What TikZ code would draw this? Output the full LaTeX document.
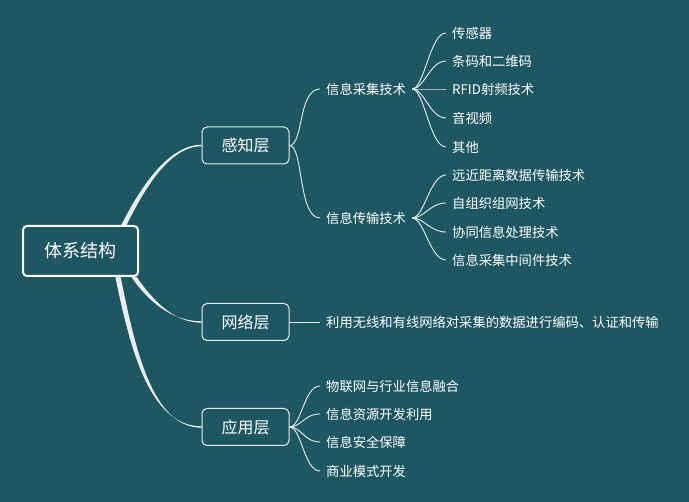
\documentclass[tikz,border=0pt]{standalone}
\usepackage{fontspec}
\setmainfont{Noto Sans CJK SC}
\definecolor{bg}{HTML}{1E5662}
\definecolor{ln}{HTML}{E8EFF1}
\tikzset{
  rootbox/.style={draw=white, line width=2pt, rounded corners=4pt, minimum width=115pt, minimum height=50pt, inner sep=0pt, font=\fontsize{18}{20}\selectfont, text=white},
  layerbox/.style={draw=ln, line width=1pt, rounded corners=5pt, minimum width=87pt, minimum height=37pt, inner sep=0pt, font=\fontsize{16}{18}\selectfont, text=white},
  lbl/.style={anchor=west, inner xsep=6pt, inner ysep=2pt, font=\fontsize{13.3}{15}\selectfont, text=white},
  br/.style={draw=ln, line width=0.9pt},
  fan/.style={br, out=0, in=180}
}
\begin{document}
\begin{tikzpicture}[x=1pt, y=-1pt]
\fill[bg] (0,0) rectangle (689,502);
\useasboundingbox (0,0) rectangle (689,502);

% main nodes
\node[rootbox] (root) at (80.5,251) {体系结构};
\node[layerbox] (gz) at (245.5,145.5) {感知层};
\node[layerbox] (wl) at (245.5,322) {网络层};
\node[layerbox] (yy) at (245.5,427) {应用层};

% second level
\node[lbl] (cj) at (320,89) {信息采集技术};
\node[lbl] (cs) at (320,218) {信息传输技术};
\node[lbl] (wt) at (320,322) {利用无线和有线网络对采集的数据进行编码、认证和传输};
\node[lbl] (y1) at (320,386) {物联网与行业信息融合};
\node[lbl] (y2) at (320,414) {信息资源开发利用};
\node[lbl] (y3) at (320,442) {信息安全保障};
\node[lbl] (y4) at (320,471) {商业模式开发};

% leaves
\node[lbl] (a1) at (446,33) {传感器};
\node[lbl] (a2) at (446,61) {条码和二维码};
\node[lbl] (a3) at (446,89) {RFID射频技术};
\node[lbl] (a4) at (446,118) {音视频};
\node[lbl] (a5) at (446,147) {其他};
\node[lbl] (b1) at (446,175) {远近距离数据传输技术};
\node[lbl] (b2) at (446,203) {自组织组网技术};
\node[lbl] (b3) at (446,232) {协同信息处理技术};
\node[lbl] (b4) at (446,260) {信息采集中间件技术};

% root connectors (tapered)
\coordinate (r1) at ([xshift=-15pt]root.north east);
\coordinate (r2) at ([xshift=-5pt]root.south east);
\coordinate (r3) at ([xshift=-21pt]root.south east);
\fill[ln] ([xshift=-2.6pt]r1) .. controls (135.5,197) and (165,144.8) .. ([yshift=0.7pt]gz.west)
  -- ([yshift=-0.7pt]gz.west) .. controls (167,146.3) and (140.5,197) .. ([xshift=2.6pt]r1) -- cycle;
\fill[ln] ([xshift=-2.6pt]r2) .. controls (147.5,300.5) and (171,321.3) .. ([yshift=0.7pt]wl.west)
  -- ([yshift=-0.7pt]wl.west) .. controls (173,322.7) and (152.5,299.5) .. ([xshift=2.6pt]r2) -- cycle;
\fill[ln] ([xshift=-2.6pt]r3) .. controls (129.5,346) and (149,426.3) .. ([yshift=0.7pt]yy.west)
  -- ([yshift=-0.7pt]yy.west) .. controls (151,427.7) and (134.5,344) .. ([xshift=2.6pt]r3) -- cycle;

% layer -> second level
\draw[br] (gz.east) .. controls +(14,0) and +(-22,0) .. (cj.west);
\draw[br] (gz.east) .. controls +(14,0) and +(-22,0) .. (cs.west);
\draw[br] (wl.east) -- (wt.west);
\foreach \t in {y1,y2,y3,y4}
  \draw[br] (yy.east) .. controls +(12,0) and +(-16,0) .. (\t.west);

% second level -> leaves
\foreach \t in {a1,a2,a3,a4,a5}
  \draw[br] (cj.east) .. controls +(12,0) and +(-16,0) .. (\t.west);
\foreach \t in {b1,b2,b3,b4}
  \draw[br] (cs.east) .. controls +(12,0) and +(-16,0) .. (\t.west);
\end{tikzpicture}
\end{document}
